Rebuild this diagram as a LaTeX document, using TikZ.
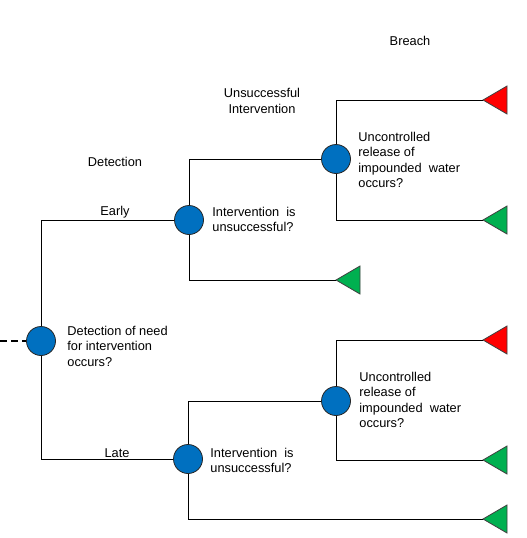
\documentclass[tikz,border=0pt]{standalone}
\usepackage{fontspec}
\setmainfont{Liberation Sans}
\usetikzlibrary{positioning}
\definecolor{chanceblue}{RGB}{0,112,192}
\definecolor{breachred}{RGB}{255,0,0}
\definecolor{safegreen}{RGB}{0,176,80}
\begin{document}
\begin{tikzpicture}[x=1pt, y=-1pt, line width=0.8pt,
  chance/.style={circle, draw=black!85, fill=chanceblue, minimum size=29pt, inner sep=0pt},
  lbl/.style={font=\fontsize{12.8}{15.2}\selectfont, inner sep=0pt},
  txt/.style={lbl, align=left, anchor=north west},
  leaf/.style={draw=black!75, line join=miter}]
\useasboundingbox (0,0) rectangle (527,538);
% chance nodes
\node[chance] (c0) at (41,341) {};
\node[chance] (e1) at (189,220) {};
\node[chance] (l1) at (188,459) {};
\node[chance] (e2) at (336,159) {};
\node[chance] (l2) at (336,401) {};
% end points
\foreach \n/\u/\v/\c in {eb/483/100/breachred, es/483/220/safegreen, ef/336/280/safegreen,
  lb/483/340/breachred, ls/483/460/safegreen, lf/483/519/safegreen}
  {\coordinate (\n) at (\u,\v);
   \draw[leaf, fill=\c] (\n) -- ++(24,-14) -- ++(0,28) -- cycle;}
% branches
\coordinate (in) at (0,341);
\draw[dash pattern=on 7pt off 4pt, line width=1.2pt] (in) -- (c0);
\draw (c0) |- (e1);
\draw (c0) |- (l1);
\draw (e1) |- (e2);
\draw (e1) |- (ef);
\draw (e2) |- (eb);
\draw (e2) |- (es);
\draw (l1) |- (l2);
\draw (l1) |- (lf);
\draw (l2) |- (lb);
\draw (l2) |- (ls);
% labels
\node[lbl] (det) at (115,162) {Detection};
\node[lbl] (early) at (115,212) {Early};
\node[lbl] (late) at (117,453) {Late};
\node[lbl, align=center] (unsucc) at (262,101) {Unsuccessful\\Intervention};
\node[lbl] (breach) at (410,41) {Breach};
\node[txt] (q0) at (67,326) {Detection of need\\for intervention\\occurs?};
\node[txt] (q1) at (212,207) {Intervention\ \ is\\unsuccessful?};
\node[txt] (q2) at (358,132) {Uncontrolled\\release of\\impounded\ \ water\\occurs?};
\node[txt] (q3) at (210,448) {Intervention\ \ is\\unsuccessful?};
\node[txt] (q4) at (359,372) {Uncontrolled\\release of\\impounded\ \ water\\occurs?};
\end{tikzpicture}
\end{document}
